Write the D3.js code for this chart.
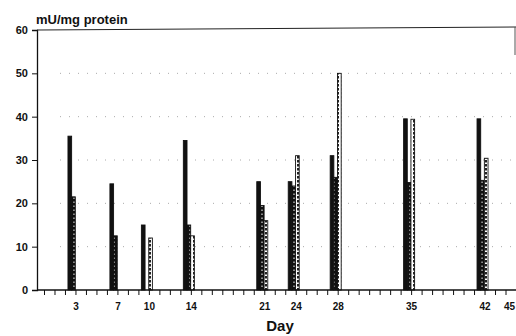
<!DOCTYPE html>
<html>
<head>
<meta charset="utf-8">
<script src="https://cdn.jsdelivr.net/npm/d3@7"></script>
<style>
  body { margin: 0; background: #fff; }
  text { font-family: "Liberation Sans", Arial, sans-serif; font-weight: bold; fill: #111; }
</style>
</head>
<body>
<svg id="chart" width="516" height="336"></svg>
<script>
// days sampled and the three series (mU/mg protein), null = no bar
var days    = [3, 7, 10, 14, 21, 24, 28, 35, 42];
var seriesA = [35.5, 24.5, 15, 34.5, 25, 25, 31, 39.5, 39.5];
var seriesB = [21.5, 12.5, null, 15, 19.5, 24, 26, 24.8, 25.3];
var seriesC = [null, null, 12, 12.5, 16, 31, 50, 39.4, 30.4];
var dayTicks = [3, 7, 10, 14, 21, 24, 28, 35, 42, 45];
var yTicks = [0, 10, 20, 30, 40, 50, 60];

var svg = d3.select("#chart");

var x = d3.scaleLinear().domain([0, 45]).range([44, 516]);
var y = d3.scaleLinear().domain([0, 60]).range([290, 30]);
var sub = d3.scaleBand().domain(["A", "B", "C"]).range([-7.5, 3.5]);

var defs = svg.append("defs");
var pb = defs.append("pattern").attr("id", "ladder")
    .attr("patternUnits", "userSpaceOnUse").attr("width", 4).attr("height", 4);
pb.append("rect").attr("width", 4).attr("height", 4).attr("fill", "#111");
pb.append("rect").attr("x", 1.5).attr("y", 1.5).attr("width", 1).attr("height", 1.5).attr("fill", "#fff");

var pc = defs.append("pattern").attr("id", "dots")
    .attr("patternUnits", "userSpaceOnUse").attr("width", 4).attr("height", 4);
pc.append("rect").attr("width", 4).attr("height", 4).attr("fill", "#fff");
pc.append("rect").attr("x", 1).attr("y", 0).attr("width", 2).attr("height", 2.5).attr("fill", "#222");

// dotted grid
svg.append("g").selectAll("line")
    .data(yTicks.filter(function(d){ return d > 0 && d < 60; }))
    .enter().append("line")
    .attr("x1", 60).attr("x2", 516)
    .attr("y1", function(d){ return y(d); }).attr("y2", function(d){ return y(d); })
    .attr("stroke", "#aaa").attr("stroke-width", 1)
    .attr("stroke-dasharray", "1,8");

// bars
var series = [
    {key: "A", values: seriesA, fill: "#111", stroke: "#111"},
    {key: "B", values: seriesB, fill: "url(#ladder)", stroke: "#111"},
    {key: "C", values: seriesC, fill: "url(#dots)", stroke: "#111"}
];
series.forEach(function(s){
    svg.append("g").selectAll("rect")
        .data(days.map(function(d, i){ return {day: d, v: s.values[i]}; })
                  .filter(function(d){ return d.v != null; }))
        .enter().append("rect")
        .attr("x", function(d){ return x(d.day) + sub(s.key); })
        .attr("width", sub.bandwidth())
        .attr("y", function(d){ return y(d.v); })
        .attr("height", function(d){ return y(0) - y(d.v); })
        .attr("fill", s.fill)
        .attr("stroke", s.stroke)
        .attr("stroke-width", 0.9);
});

// y axis
var yAxis = d3.axisLeft(y).tickValues(yTicks).tickSize(5).tickPadding(4);
var gy = svg.append("g").attr("transform", "translate(37,0)").call(yAxis);
gy.select(".domain").attr("stroke", "#111").attr("stroke-width", 1.3);
gy.selectAll(".tick line").attr("stroke", "#111");
gy.selectAll("text").style("font-size", "11px");

// x axis with a tick every day
var xAxis = d3.axisBottom(x).tickValues(d3.range(0, 46)).tickSize(5)
    .tickFormat(function(d){ return dayTicks.indexOf(d) >= 0 ? d : ""; })
    .tickPadding(8);
var gx = svg.append("g").attr("transform", "translate(0,290)").call(xAxis);
gx.select(".domain").remove();
gx.append("line").attr("x1", 37).attr("x2", 516).attr("stroke", "#111").attr("stroke-width", 1.3);
gx.selectAll(".tick line").attr("stroke", "#111");
gx.selectAll("text").style("font-size", "10px");
gx.selectAll(".tick").filter(function(d){ return d === 45; })
    .select("text").attr("text-anchor", "end").attr("dx", "-1.5");

// frame pieces
svg.append("line").attr("x1", 37).attr("x2", 516).attr("y1", y(60)).attr("y2", y(60) - 3)
    .attr("stroke", "#222").attr("stroke-width", 1);
svg.append("line").attr("x1", 515).attr("x2", 515).attr("y1", y(60) - 3).attr("y2", 55)
    .attr("stroke", "#555").attr("stroke-width", 1);

// titles
svg.append("text").attr("x", 36).attr("y", 24).style("font-size", "13px").text("mU/mg protein");
svg.append("text").attr("x", 280).attr("y", 331).attr("text-anchor", "middle")
    .style("font-size", "15px").text("Day");
</script>
</body>
</html>
